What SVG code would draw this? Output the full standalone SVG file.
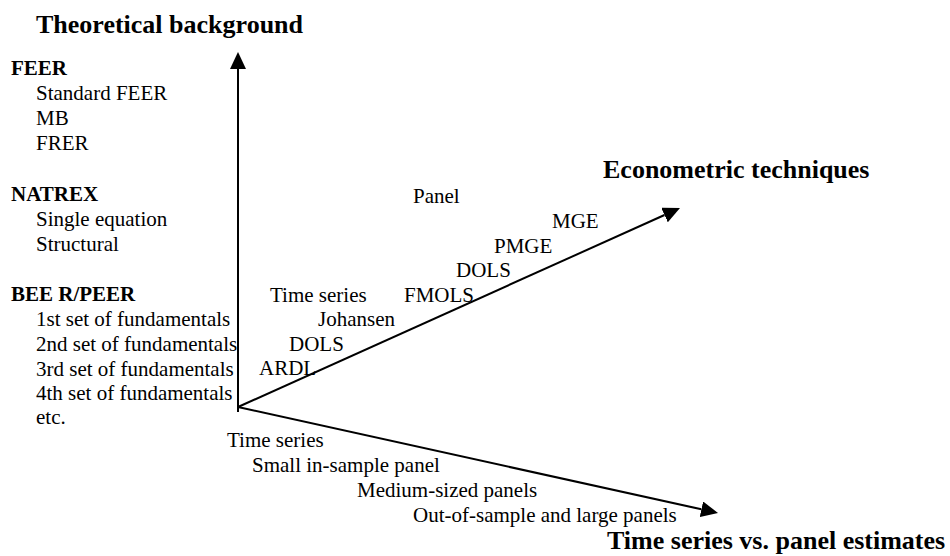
<svg xmlns="http://www.w3.org/2000/svg" width="950" height="556" viewBox="0 0 950 556">
<style>
.t{font-family:"Liberation Serif","Times New Roman",Times,serif;font-size:21px;font-weight:normal;fill:#000}
.h{font-family:"Liberation Serif","Times New Roman",Times,serif;font-size:21px;font-weight:bold;fill:#000}
.ax{font-family:"Liberation Serif","Times New Roman",Times,serif;font-size:26px;font-weight:bold;fill:#000}
.axis{stroke:#000;stroke-width:2;fill:none}
</style>
<defs>
<marker id="arr" viewBox="0 -8 17 16" refX="0" refY="0" markerWidth="17" markerHeight="16" markerUnits="userSpaceOnUse" orient="auto">
<path d="M0,-8 L17,0 L0,8 z" fill="#000"/>
</marker>
</defs>
<rect width="950" height="556" fill="#fff"/>
<g id="connectors">
<line class="axis" x1="238" y1="412" x2="238" y2="69" marker-end="url(#arr)"/>
<line class="axis" x1="238" y1="407" x2="664.5" y2="215" marker-end="url(#arr)"/>
<line class="axis" x1="238" y1="407" x2="701.4" y2="509.3" marker-end="url(#arr)"/>
</g>
<g id="theoretical" font-family="Liberation Serif, serif">
<text class="ax" x="36" y="33">Theoretical background</text>
<text class="h" x="11" y="75">FEER</text>
<text class="t" x="36" y="100">Standard FEER</text>
<text class="t" x="36" y="125">MB</text>
<text class="t" x="36" y="150">FRER</text>
<text class="h" x="11" y="201">NATREX</text>
<text class="t" x="36" y="226">Single equation</text>
<text class="t" x="36" y="251">Structural</text>
<text class="h" x="11" y="301">BEE R/PEER</text>
<text class="t" x="36" y="326">1st set of fundamentals</text>
<text class="t" x="36" y="351">2nd set of fundamentals</text>
<text class="t" x="36" y="376">3rd set of fundamentals</text>
<text class="t" x="36" y="400">4th set of fundamentals</text>
<text class="t" x="36" y="424">etc.</text>
</g>
<g id="econometric" font-family="Liberation Serif, serif">
<text class="ax" x="603" y="178">Econometric techniques</text>
<text class="t" x="413" y="203">Panel</text>
<text class="t" x="552" y="228">MGE</text>
<text class="t" x="494" y="253">PMGE</text>
<text class="t" x="456" y="277">DOLS</text>
<text class="t" x="404" y="302">FMOLS</text>
<text class="t" x="270" y="302">Time series</text>
<text class="t" x="318" y="326">Johansen</text>
<text class="t" x="289" y="351">DOLS</text>
<text class="t" x="259" y="375">ARDL</text>
</g>
<g id="panel" font-family="Liberation Serif, serif">
<text class="t" x="227" y="447">Time series</text>
<text class="t" x="252" y="472">Small in-sample panel</text>
<text class="t" x="357" y="497">Medium-sized panels</text>
<text class="t" x="413" y="522">Out-of-sample and large panels</text>
<text class="ax" x="607" y="549">Time series vs. panel estimates</text>
</g>
</svg>
